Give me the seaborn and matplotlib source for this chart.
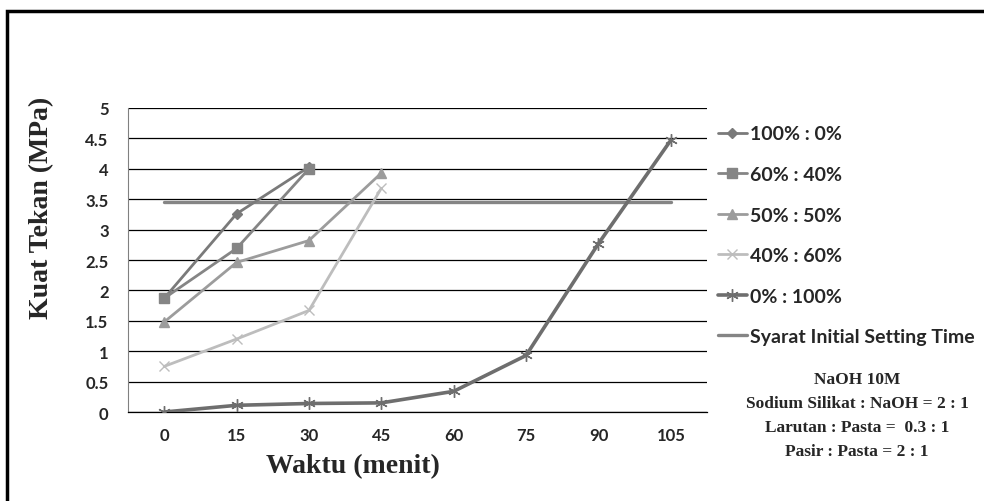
import matplotlib
matplotlib.use("Agg")
import matplotlib.pyplot as plt
from matplotlib.patches import Rectangle
import seaborn as sns
import pandas as pd

# ---- data ----
waktu = [0, 15, 30, 45, 60, 75, 90, 105]
s100_0 = [1.87, 3.26, 4.03]
s60_40 = [1.87, 2.69, 4.0]
s50_50 = [1.48, 2.46, 2.82, 3.93]
s40_60 = [0.75, 1.2, 1.67, 3.68]
s0_100 = [0.0, 0.11, 0.14, 0.15, 0.34, 0.93, 2.77, 4.47]
syarat_x = [0, 105]
syarat_y = [3.45, 3.45]
labels = ["100% : 0%", "60% : 40%", "50% : 50%", "40% : 60%", "0% : 100%",
          "Syarat Initial Setting Time"]
yticks = [0, 0.5, 1, 1.5, 2, 2.5, 3, 3.5, 4, 4.5, 5]
ytick_labels = ["0", "0.5", "1", "1.5", "2", "2.5", "3", "3.5", "4", "4.5", "5"]

sns.set_theme(style="white")
plt.rcParams["font.family"] = ["Lato", "DejaVu Sans"]

fig = plt.figure(figsize=(9.84, 5.02), dpi=100)
ax = fig.add_axes([128/984, 1-413/502, (707-128)/984, (413-109)/502])

series = [
    (s100_0, "#7a7a7a", "D", 5, 2.0),
    (s60_40, "#858585", "s", 7, 2.0),
    (s50_50, "#9c9c9c", "^", 7, 2.0),
    (s40_60, "#bdbdbd", "x", 7, 2.0),
    (s0_100, "#6e6e6e", (6, 2, 0), 9, 2.6),
]
for (vals, col, mk, ms, lw), lab in zip(series, labels[:5]):
    df = pd.DataFrame({"x": waktu[:len(vals)], "y": vals})
    sns.lineplot(data=df, x="x", y="y", ax=ax, color=col, marker=mk,
                 markersize=ms, linewidth=lw, label=lab,
                 markeredgecolor=col, markeredgewidth=1.0, zorder=3)
df_s = pd.DataFrame({"x": syarat_x, "y": syarat_y})
sns.lineplot(data=df_s, x="x", y="y", ax=ax, color="#858585", linewidth=2.4,
             label=labels[5], zorder=2)

ax.set_xlim(-7.5, 112.5)
ax.set_ylim(0, 5)
ax.set_xticks(waktu)
ax.set_xticklabels([str(w) for w in waktu], fontsize=12, fontweight="bold")
ax.set_yticks(yticks)
ax.set_yticklabels(ytick_labels, fontsize=12, fontweight="bold")
ax.tick_params(axis="x", length=0, pad=11)
ax.tick_params(axis="y", length=0, pad=14)
ax.yaxis.grid(True, color="black", linewidth=0.9)
ax.xaxis.grid(False)
for side in ["top", "right"]:
    ax.spines[side].set_visible(False)
ax.spines["left"].set_color("#808080")
ax.spines["left"].set_linewidth(0.8)
ax.spines["bottom"].set_color("black")
ax.spines["bottom"].set_linewidth(0.9)
ax.set_xlabel("")
ax.set_ylabel("")

handles, labs = ax.get_legend_handles_labels()
ax.get_legend().remove()
fig.legend(handles, labs, loc="upper left", bbox_to_anchor=(700/984, 1-109/502),
           frameon=False, handlelength=1.5, handletextpad=0.15,
           labelspacing=1.21, prop={"family": "Lato", "weight": "bold", "size": 14})

serif = ["Liberation Serif", "DejaVu Serif"]
fig.text(42/984, 1-208/502, "Kuat Tekan (MPa)", rotation=90, ha="center",
         va="center", fontsize=20, fontweight="bold", family=serif)
fig.text(353/984, 1-467/502, "Waktu (menit)", ha="center", va="center",
         fontsize=20, fontweight="bold", family=serif)
notes = ["NaOH 10M", "Sodium Silikat : NaOH = 2 : 1", "Larutan : Pasta =  0.3 : 1",
         "Pasir : Pasta = 2 : 1"]
for i, t in enumerate(notes):
    fig.text(857/984, 1-(380+24*i)/502, t, ha="center", va="center",
             fontsize=12.5, fontweight="bold", family=serif)

fig.patches.append(Rectangle((7/984, -0.2), 1.2, 0.976 + 0.2, transform=fig.transFigure,
                             fill=False, edgecolor="black", linewidth=2.5))

fig.savefig("out.png", dpi=100)
